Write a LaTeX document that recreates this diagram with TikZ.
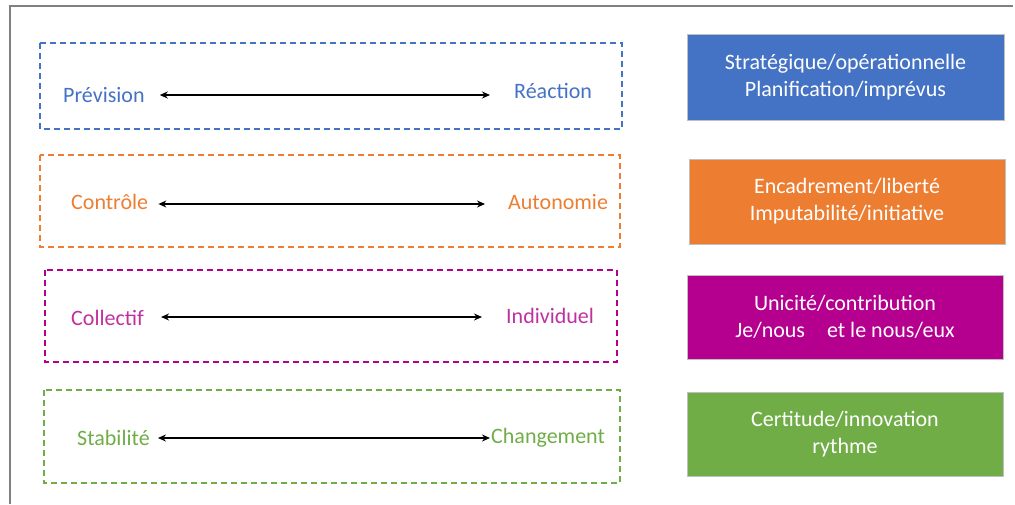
\documentclass[tikz,border=0pt]{standalone}
\usepackage{fontspec}
\setmainfont{Carlito}
\usetikzlibrary{arrows.meta}
\definecolor{cblue}{HTML}{4472C4}
\definecolor{corange}{HTML}{ED7D31}
\definecolor{cmag}{HTML}{B5008F}
\definecolor{cmagt}{HTML}{C0309F}
\definecolor{cgreen}{HTML}{70AD47}
\definecolor{cframe}{HTML}{808080}
\tikzset{
  dbox/.style={draw, dashed, line width=1.4pt, dash pattern=on 6pt off 4pt},
  lbl/.style={font=\fontsize{22}{24}\selectfont, inner sep=0pt},
  rbox/.style={draw=black!25, line width=0.4pt, text=white, align=center,
     font=\fontsize{22}{27}\selectfont, inner sep=0pt},
  biarrow/.style={{Stealth[length=8pt,width=7pt]}-{Stealth[length=8pt,width=7pt]}, line width=2.2pt, black},
}
\begin{document}
\begin{tikzpicture}[x=1pt,y=-1pt]
\useasboundingbox (0,0) rectangle (1015,504);
% outer frame
\draw[cframe, line width=2pt] (10,504) -- (10,6) coordinate (fc) -- (1013,6);

% row 1
\draw[dbox, cblue] (40,43) rectangle (622,129);
\node[lbl, text=cblue, anchor=west] (prev) at (63,95) {Prévision};
\node[lbl, text=cblue, anchor=west] (reac) at (514,91) {Réaction};
\coordinate (a1) at ([xshift=15pt]prev.east);
\coordinate (b1) at ([xshift=-24pt]reac.west);
\draw[biarrow] (a1) -- (a1 -| b1);
\node[rbox, fill=cblue, minimum width=317pt, minimum height=86pt] (r1) at (845.5,77) {Stratégique/opérationnelle\\Planification/imprévus};

% row 2
\draw[dbox, corange] (40,155) rectangle (620,247);
\node[lbl, text=corange, anchor=west] (ctrl) at (71,202) {Contrôle};
\node[lbl, text=corange, anchor=west] (auto) at (508,202) {Autonomie};
\coordinate (a2) at ([xshift=10pt,yshift=-2pt]ctrl.east);
\coordinate (b2) at ([xshift=-23pt]auto.west);
\draw[biarrow] (a2) -- (a2 -| b2);
\node[rbox, fill=corange, minimum width=316pt, minimum height=85pt] (r2) at (847,201.5) {Encadrement/liberté\\Imputabilité/initiative};

% row 3
\draw[dbox, cmag] (45,270) rectangle (617,362);
\node[lbl, text=cmagt, anchor=west] (coll) at (71,318) {Collectif};
\node[lbl, text=cmagt, anchor=west] (indi) at (506,316) {Individuel};
\coordinate (a3) at ([xshift=17pt,yshift=1pt]coll.east);
\coordinate (b3) at ([xshift=-24pt]indi.west);
\draw[biarrow] (a3) -- (a3 -| b3);
\node[rbox, fill=cmag, minimum width=316pt, minimum height=84pt] (r3) at (845,317) {Unicité/contribution\\Je/nous\quad et le nous/eux};

% row 4
\draw[dbox, cgreen] (44,390) rectangle (620,483);
\node[lbl, text=cgreen, anchor=west] (stab) at (77,438) {Stabilité};
\node[lbl, text=cgreen, anchor=west] (chg) at (491,438) {Changement};
\coordinate (a4) at ([xshift=8pt]stab.east);
\coordinate (b4) at ([xshift=-1pt]chg.west);
\draw[biarrow] (a4) -- (a4 -| b4);
\node[rbox, fill=cgreen, minimum width=316pt, minimum height=84pt] (r4) at (845,434) {Certitude/innovation\\rythme};
\end{tikzpicture}
\end{document}
